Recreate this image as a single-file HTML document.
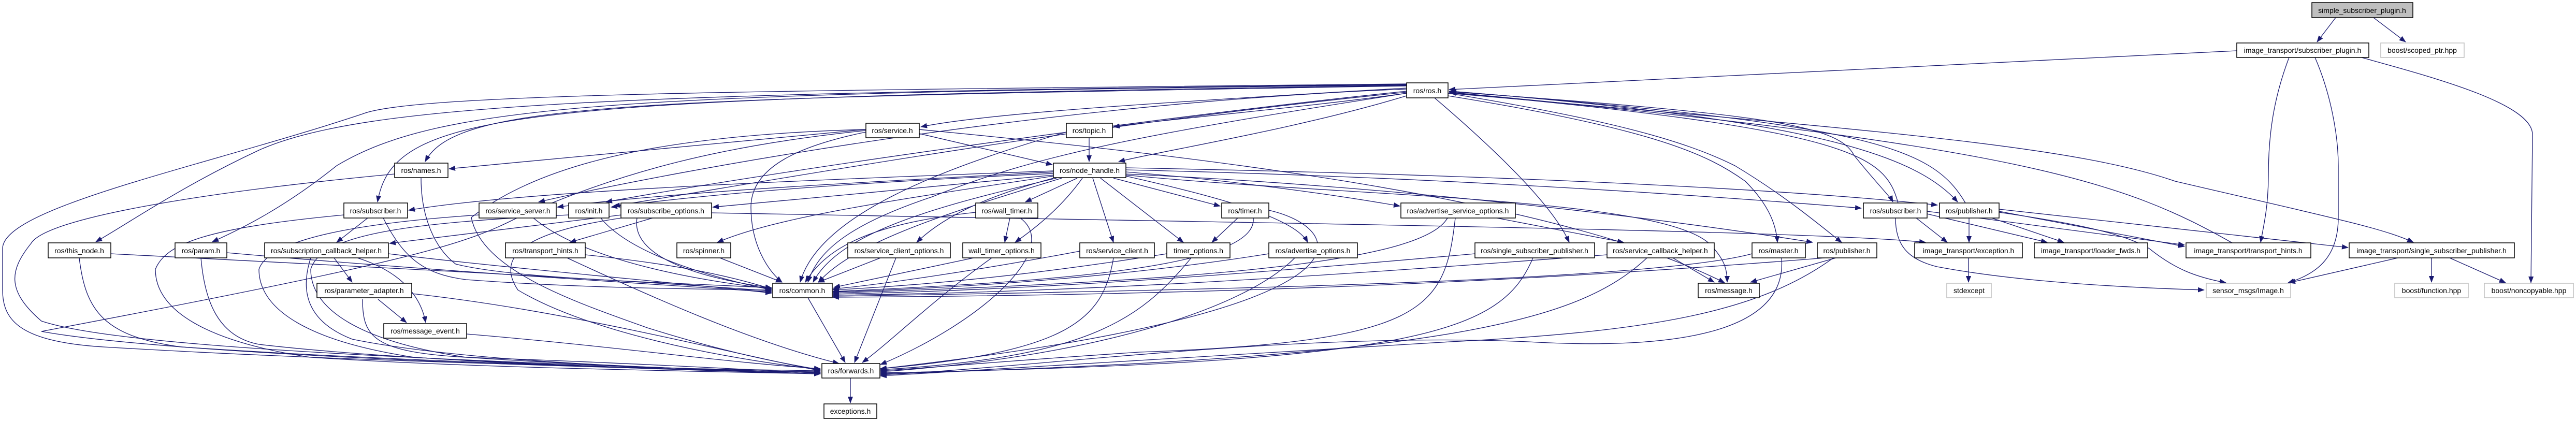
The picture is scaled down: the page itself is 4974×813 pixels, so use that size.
<!DOCTYPE html>
<html><head><meta charset="utf-8"><style>
html,body{margin:0;padding:0;background:#fff;}
svg{display:block;}
text{font-family:"Liberation Sans",sans-serif;font-size:14px;text-anchor:middle;fill:#000;}
.e{fill:none;stroke:#191970;stroke-width:1.3;marker-end:url(#a);}
.n{fill:#fff;stroke:#000;stroke-width:1.5;}
.l{fill:#fff;stroke:#bfbfbf;stroke-width:1.5;}
</style></head><body>
<svg width="4974" height="813" viewBox="0 0 4974 813" xmlns="http://www.w3.org/2000/svg">
<defs><marker id="a" markerWidth="13" markerHeight="10" refX="12" refY="5" orient="auto" markerUnits="userSpaceOnUse"><path d="M0,0 L13,5 L0,10z" fill="#191970"/></marker></defs>
<g>
<!-- top -->
<path class="e" d="M4510,34 L4474,81"/>
<path class="e" d="M4583,34 L4645,81"/>
<path class="e" d="M4319,98 L2798,173"/>
<path class="e" d="M4420,111 C4390,190 4380,260 4380,340 C4380,400 4370,440 4365,468"/>
<path class="e" d="M4470,111 C4500,180 4515,260 4515,320 L4515,420 C4515,500 4470,530 4418,546"/>
<path class="e" d="M4560,111 C4700,150 4890,200 4890,260 L4887,546"/>
<path class="e" d="M4630,498 L4420,546"/>
<path class="e" d="M4695,498 L4695,545"/>
<path class="e" d="M4730,498 L4838,546"/>
<path class="e" d="M4310,469 C4100,350 3900,280 2798,178"/>
<path class="e" d="M2798,180 C3600,250 4000,280 4200,350 C4500,420 4600,440 4660,468"/>
<path class="e" d="M2798,177 C3400,220 3550,240 3580,300 C3620,350 3650,380 3655,390"/>
<path class="e" d="M3665,392 C3640,300 3580,250 2800,179"/>
<path class="e" d="M2798,176 C3500,230 3700,300 3780,390"/>
<path class="e" d="M3795,392 C3730,280 3600,240 2800,176"/>
<path class="e" d="M3802,421 L3802,468"/>
<path class="e" d="M3840,419 L3985,468"/>
<path class="e" d="M3860,408 L4218,476"/>
<path class="e" d="M3860,404 L4534,478"/>
<path class="e" d="M3860,410 C4000,430 4100,450 4150,480 C4200,520 4240,535 4298,546"/>
<path class="e" d="M3700,421 L3760,468"/>
<path class="e" d="M3721,413 L3953,468"/>
<path class="e" d="M3721,408 L4218,473"/>
<path class="e" d="M3660,421 C3660,470 3680,500 3740,515 C3900,545 4100,555 4256,560"/>
<path class="e" d="M3801,498 L3801,545"/>
<path class="e" d="M2174,328 C2700,340 3200,370 3594,402"/>
<path class="e" d="M2174,324 C3000,340 3500,370 3741,396"/>
<path class="e" d="M1374,411 C2500,432 3500,445 3718,468"/>
<!-- ros.h to left -->
<path class="e" d="M2716,170 C2200,200 1900,220 1778,245"/>
<path class="e" d="M2716,180 C2500,210 2250,230 2150,245"/>
<path class="e" d="M2716,185 C2500,250 2250,290 2160,312"/>
<path class="e" d="M2716,166 C1200,190 880,200 821,312"/>
<path class="e" d="M2716,165 C1000,190 760,210 729,390"/>
<path class="e" d="M2716,163 C1200,180 700,200 500,290 C350,360 250,430 185,467"/>
<path class="e" d="M2716,164 C1200,180 850,200 650,320 C550,400 470,440 410,467"/>
<path class="e" d="M2716,172 C2000,200 1300,330 1040,390"/>
<path class="e" d="M2716,176 C2200,230 1500,330 1170,390"/>
<path class="e" d="M2716,178 C2100,240 1600,330 1185,398"/>
<path class="e" d="M2716,180 C2200,260 2000,300 1800,380 C1650,430 1580,480 1560,545"/>
<path class="e" d="M2716,162 C1500,175 800,180 700,220 C400,320 5,400 5,480 L5,560 C5,620 40,660 200,670 C700,700 1300,712 1584,716"/>
<path class="e" d="M2770,189 C2900,300 3000,400 3030,468"/>
<path class="e" d="M2796,185 C3200,250 3300,300 3370,350 C3420,400 3430,440 3432,468"/>
<path class="e" d="M2796,180 C3100,230 3250,270 3350,320 C3450,380 3520,440 3556,468"/>
<!-- service / topic -->
<path class="e" d="M1775,258 L2032,318"/>
<path class="e" d="M1672,250 L867,326"/>
<path class="e" d="M1672,255 C1550,280 1450,320 1450,400 C1450,470 1480,520 1510,545"/>
<path class="e" d="M1672,250 C1300,260 1050,310 910,420 C930,520 1100,580 1250,633 C1400,680 1500,700 1584,714"/>
<path class="e" d="M1775,250 C2300,300 3000,380 3330,546"/>
<path class="e" d="M1672,252 C1400,280 1200,330 1000,420 C900,470 820,500 80,640 C300,680 1000,710 1584,718"/>
<path class="e" d="M2103,266 L2103,312"/>
<path class="e" d="M2059,255 C1800,330 1580,420 1545,545"/>
<!-- names -->
<path class="e" d="M813,344 C813,420 840,480 880,510 C1000,540 1300,545 1490,556"/>
<path class="e" d="M762,336 C400,370 90,420 60,470 C20,520 10,560 80,620 C200,660 600,690 1584,720"/>
<!-- node_handle -->
<path class="e" d="M2034,330 C1500,350 1000,370 789,406"/>
<path class="e" d="M2034,332 C1700,350 1300,370 1076,400"/>
<path class="e" d="M2034,335 C1700,350 1400,370 1180,400"/>
<path class="e" d="M2034,338 C1800,360 1600,380 1376,400"/>
<path class="e" d="M2034,340 C1700,390 1500,420 1385,468"/>
<path class="e" d="M2080,344 L1980,390"/>
<path class="e" d="M2090,344 C2050,400 2000,440 1960,468"/>
<path class="e" d="M2034,344 C1900,380 1820,420 1770,468"/>
<path class="e" d="M2110,344 L2150,468"/>
<path class="e" d="M2125,344 L2285,468"/>
<path class="e" d="M2150,344 L2356,398"/>
<path class="e" d="M2174,340 C2350,380 2500,420 2525,468"/>
<path class="e" d="M2174,332 C2400,350 2600,380 2703,398"/>
<path class="e" d="M2040,344 C1800,400 1620,450 1570,545"/>
<path class="e" d="M2050,344 C1800,420 1650,470 1580,545"/>
<path class="e" d="M2174,336 C2700,360 3200,420 3500,468"/>
<path class="e" d="M2174,338 C2600,380 3200,380 3300,470 C3330,500 3335,520 3335,545"/>
<!-- row4 -->
<path class="e" d="M710,421 L650,468"/>
<path class="e" d="M740,421 C780,500 820,530 900,540 C1100,555 1300,558 1490,560"/>
<path class="e" d="M664,415 C400,440 320,470 300,520 C300,600 400,660 600,690 C900,710 1300,716 1584,722"/>
<path class="e" d="M1030,421 C1100,480 1250,530 1490,558"/>
<path class="e" d="M925,415 C700,430 520,460 500,520 C500,600 600,660 800,690 C1100,710 1400,716 1584,722"/>
<path class="e" d="M1160,421 C1200,470 1300,520 1490,560"/>
<path class="e" d="M1098,415 C800,430 620,450 600,520 C600,600 700,660 900,690 C1200,710 1450,716 1584,720"/>
<path class="e" d="M1200,415 L752,470"/>
<path class="e" d="M1260,421 L1100,468"/>
<path class="e" d="M1230,421 C1220,480 1300,530 1490,556"/>
<path class="e" d="M1200,421 C1000,450 960,500 1000,560 C1100,620 1300,680 1584,714"/>
<path class="e" d="M1950,421 L1940,468"/>
<path class="e" d="M1884,410 C1700,430 1600,470 1555,545"/>
<path class="e" d="M1970,421 C2050,480 1900,620 1700,704"/>
<path class="e" d="M2390,421 L2340,468"/>
<path class="e" d="M2420,421 C2430,520 2000,545 1608,563"/>
<path class="e" d="M2450,406 C2600,440 2700,600 1700,712"/>
<path class="e" d="M2795,421 C2750,500 2400,540 1608,566"/>
<path class="e" d="M2810,421 C2790,600 2750,660 2200,680 C1900,700 1800,710 1700,716"/>
<path class="e" d="M2890,421 L3135,468"/>
<!-- row5 -->
<path class="e" d="M214,490 C800,520 1200,540 1490,562"/>
<path class="e" d="M153,498 C165,600 200,650 350,670 C800,700 1300,712 1584,722"/>
<path class="e" d="M438,488 C800,520 1200,545 1490,564"/>
<path class="e" d="M388,498 C395,580 420,650 500,665 C800,700 1300,712 1584,722"/>
<path class="e" d="M750,490 C1000,520 1300,545 1490,566"/>
<path class="e" d="M600,498 C580,560 590,620 680,655 C900,700 1300,712 1584,720"/>
<path class="e" d="M645,498 L680,545"/>
<path class="e" d="M690,498 C760,520 810,560 822,623"/>
<path class="e" d="M1130,492 C1300,510 1400,530 1490,558"/>
<path class="e" d="M1095,498 C1250,570 1450,660 1620,702"/>
<path class="e" d="M1390,498 L1510,545"/>
<path class="e" d="M1700,498 L1580,545"/>
<path class="e" d="M1730,498 L1650,700"/>
<path class="e" d="M1880,498 L1610,555"/>
<path class="e" d="M1915,498 C1800,580 1720,660 1665,700"/>
<path class="e" d="M2085,485 C1900,520 1700,550 1608,558"/>
<path class="e" d="M2150,498 C2130,620 2060,680 1700,712"/>
<path class="e" d="M2253,490 C2000,530 1800,550 1608,560"/>
<path class="e" d="M2300,498 C2200,620 2100,690 1700,714"/>
<path class="e" d="M2450,490 C2200,530 1900,555 1608,564"/>
<path class="e" d="M2500,498 C2400,600 2100,690 1700,718"/>
<path class="e" d="M2848,490 C2400,530 2000,560 1608,568"/>
<path class="e" d="M2960,498 C2900,640 2750,700 1700,720"/>
<path class="e" d="M3103,492 C2600,530 2100,565 1608,570"/>
<path class="e" d="M3180,498 C3050,620 2800,690 1700,722"/>
<path class="e" d="M3230,498 L3310,545"/>
<path class="e" d="M3383,490 C3200,540 2400,560 1608,572"/>
<path class="e" d="M3440,498 C3450,620 3300,680 2950,660 C2500,640 2000,710 1700,724"/>
<path class="e" d="M3524,498 C3000,540 2400,570 1608,574"/>
<path class="e" d="M3540,498 C3400,600 3200,640 2800,660 C2300,690 1900,715 1700,726"/>
<path class="e" d="M3545,498 L3380,545"/>
<!-- bottom -->
<path class="e" d="M795,567 C1100,600 1400,680 1584,716"/>
<path class="e" d="M730,578 L785,623"/>
<path class="e" d="M700,578 C700,650 720,680 900,690 C1200,700 1400,712 1584,720"/>
<path class="e" d="M901,645 C1200,670 1400,700 1584,712"/>
<path class="e" d="M1560,575 L1632,700"/>
<path class="e" d="M1642,730 L1642,778"/>
</g>
<g>
<rect class="n" x="4464" y="5" width="195" height="29" style="fill:#bfbfbf"/><text x="4561" y="25">simple_subscriber_plugin.h</text>
<rect class="n" x="4319" y="83" width="255" height="28"/><text x="4446" y="102">image_transport/subscriber_plugin.h</text>
<rect class="l" x="4597" y="83" width="161" height="28"/><text x="4677" y="102">boost/scoped_ptr.hpp</text>
<rect class="n" x="2716" y="160" width="80" height="29"/><text x="2756" y="180">ros/ros.h</text>
<rect class="n" x="1672" y="238" width="103" height="28"/><text x="1723" y="257">ros/service.h</text>
<rect class="n" x="2059" y="238" width="89" height="28"/><text x="2103" y="257">ros/topic.h</text>
<rect class="n" x="762" y="315" width="103" height="28"/><text x="813" y="334">ros/names.h</text>
<rect class="n" x="2034" y="315" width="140" height="28"/><text x="2104" y="334">ros/node_handle.h</text>
<rect class="n" x="664" y="392" width="123" height="29"/><text x="725" y="412">ros/subscriber.h</text>
<rect class="n" x="925" y="392" width="149" height="29"/><text x="1000" y="412">ros/service_server.h</text>
<rect class="n" x="1098" y="392" width="78" height="29"/><text x="1137" y="412">ros/init.h</text>
<rect class="n" x="1199" y="392" width="175" height="29"/><text x="1286" y="412">ros/subscribe_options.h</text>
<rect class="n" x="1884" y="392" width="120" height="29"/><text x="1944" y="412">ros/wall_timer.h</text>
<rect class="n" x="2359" y="392" width="91" height="29"/><text x="2404" y="412">ros/timer.h</text>
<rect class="n" x="2705" y="392" width="221" height="29"/><text x="2815" y="412">ros/advertise_service_options.h</text>
<rect class="n" x="3598" y="392" width="123" height="29"/><text x="3660" y="412">ros/subscriber.h</text>
<rect class="n" x="3745" y="392" width="115" height="29"/><text x="3802" y="412">ros/publisher.h</text>
<rect class="n" x="93" y="469" width="121" height="29"/><text x="153" y="489">ros/this_node.h</text>
<rect class="n" x="338" y="469" width="100" height="29"/><text x="388" y="489">ros/param.h</text>
<rect class="n" x="511" y="469" width="239" height="29"/><text x="630" y="489">ros/subscription_callback_helper.h</text>
<rect class="n" x="976" y="469" width="154" height="29"/><text x="1053" y="489">ros/transport_hints.h</text>
<rect class="n" x="1307" y="469" width="104" height="29"/><text x="1359" y="489">ros/spinner.h</text>
<rect class="n" x="1637" y="469" width="198" height="29"/><text x="1736" y="489">ros/service_client_options.h</text>
<rect class="n" x="1859" y="469" width="151" height="29"/><text x="1934" y="489">wall_timer_options.h</text>
<rect class="n" x="2085" y="469" width="144" height="29"/><text x="2157" y="489">ros/service_client.h</text>
<rect class="n" x="2253" y="469" width="122" height="29"/><text x="2314" y="489">timer_options.h</text>
<rect class="n" x="2450" y="469" width="171" height="29"/><text x="2535" y="489">ros/advertise_options.h</text>
<rect class="n" x="2848" y="469" width="231" height="29"/><text x="2963" y="489">ros/single_subscriber_publisher.h</text>
<rect class="n" x="3103" y="469" width="207" height="29"/><text x="3206" y="489">ros/service_callback_helper.h</text>
<rect class="n" x="3383" y="469" width="103" height="29"/><text x="3434" y="489">ros/master.h</text>
<rect class="n" x="3509" y="469" width="115" height="29"/><text x="3566" y="489">ros/publisher.h</text>
<rect class="n" x="3697" y="469" width="208" height="29"/><text x="3801" y="489">image_transport/exception.h</text>
<rect class="n" x="3928" y="469" width="219" height="29"/><text x="4037" y="489">image_transport/loader_fwds.h</text>
<rect class="n" x="4221" y="469" width="241" height="29"/><text x="4341" y="489">image_transport/transport_hints.h</text>
<rect class="n" x="4536" y="469" width="319" height="29"/><text x="4695" y="489">image_transport/single_subscriber_publisher.h</text>
<rect class="n" x="612" y="547" width="183" height="28"/><text x="703" y="566">ros/parameter_adapter.h</text>
<rect class="n" x="1492" y="547" width="115" height="28"/><text x="1549" y="566">ros/common.h</text>
<rect class="n" x="3279" y="547" width="118" height="28"/><text x="3338" y="566">ros/message.h</text>
<rect class="l" x="3759" y="547" width="86" height="28"/><text x="3802" y="566">stdexcept</text>
<rect class="l" x="4260" y="547" width="163" height="28"/><text x="4341" y="566">sensor_msgs/Image.h</text>
<rect class="l" x="4624" y="547" width="142" height="28"/><text x="4695" y="566">boost/function.hpp</text>
<rect class="l" x="4797" y="547" width="172" height="28"/><text x="4883" y="566">boost/noncopyable.hpp</text>
<rect class="n" x="741" y="625" width="160" height="28"/><text x="821" y="644">ros/message_event.h</text>
<rect class="n" x="1587" y="702" width="112" height="28"/><text x="1643" y="721">ros/forwards.h</text>
<rect class="n" x="1591" y="780" width="102" height="28"/><text x="1642" y="799">exceptions.h</text>
</g>
</svg>
</body></html>
